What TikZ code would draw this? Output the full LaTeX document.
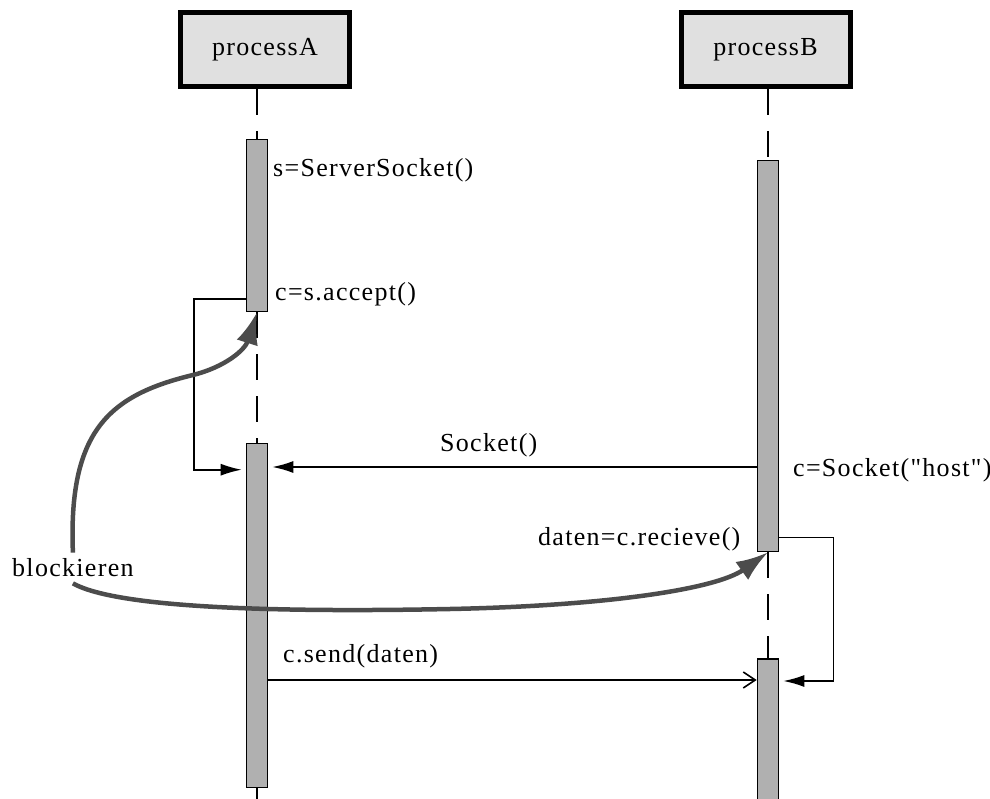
\documentclass[tikz,border=0pt]{standalone}
\usepackage{fontspec}
\setmainfont{Liberation Serif}[LetterSpace=5]
\newfontfamily\plainq{Liberation Serif}[LetterSpace=5]
\usetikzlibrary{arrows.meta}
\begin{document}
\begin{tikzpicture}[x=1pt,y=-1pt,
  every node/.style={font=\fontsize{26}{30}\selectfont},
  procbox/.style={draw, line width=5pt, fill=black!12, minimum width=169pt, minimum height=74pt, inner sep=0pt},
  actbar/.style={draw, line width=1.6pt, fill=black!31, minimum width=21pt, inner sep=0pt},
  lifeline/.style={line width=1.5pt, dash pattern=on 26pt off 16pt},
  msg/.style={line width=1.6pt},
  filltip/.style={-{Latex[length=21pt,width=12pt]}, shorten >=4pt},
  opentip/.style={-{Straight Barb[length=12pt,width=16pt,line width=1.6pt]}},
  lbl/.style={anchor=west, inner sep=0pt},
  blockline/.style={line width=4.5pt, draw=black!70, -{Latex[length=32pt,width=22pt]}}
]
\useasboundingbox (0,0) rectangle (990,799);

% process boxes
\node[procbox] (pa) at (265,49.5) {processA};
\node[procbox] (pb) at (765.5,49.5) {processB};

% activation bars
\node[actbar, minimum height=172pt] (a1) at (257,225.5) {};
\node[actbar, minimum height=344pt] (a2) at (257,615.5) {};
\node[actbar, minimum height=391pt] (b1) at (768,356) {};
\node[actbar, minimum height=162pt] (b2) at (768,740) {};

% lifelines
\coordinate (aend) at (257,799);
\draw[lifeline] (a1.north |- pa.south) -- (a1.north);
\draw[lifeline] (a1.south) -- (a2.north);
\draw[lifeline] (a2.south) -- (aend);
\draw[lifeline] (b1.north |- pb.south) -- (b1.north);
\draw[lifeline] (b1.south) -- (b2.north);

% labels
\node[lbl] (l1) at (273,170) {s=ServerSocket()};
\node[lbl] (l2) at (275,294) {c=s.accept()};
\node[lbl] (l3) at (440,445) {Socket()};
\node[lbl] (l4) at (793,470) {\plainq c=Socket("host")};
\node[lbl] (l5) at (538,539) {daten=c.recieve()};
\node[lbl] (l6) at (283,656) {c.send(daten)};
\node[lbl] (blk) at (12,568) {blockieren};

% messages
\draw[msg, filltip] ([yshift=13pt]a1.south west) -- ++(-52,0) |- ([yshift=-27pt]a2.north west);
\draw[msg, filltip] (b1.west |- 0,467) -- (a2.east |- 0,467);
\draw[msg, filltip] ([yshift=15pt]b1.south east) -- ++(54,0) |- (b2.east |- 0,681);
\draw[msg, opentip] (a2.east |- 0,680) -- (b2.west |- 0,680);

% blocking curves
\draw[blockline] ([yshift=6pt]blk.north) .. controls (68,430) and (110,395) .. (193,375)
  .. controls (225,367) and (245,350) .. (a1.south);
\draw[blockline] ([yshift=-6pt]blk.south) .. controls (120,610) and (300,612) .. (450,609)
  .. controls (600,606) and (715,590) .. (b1.south);
\end{tikzpicture}
\end{document}
